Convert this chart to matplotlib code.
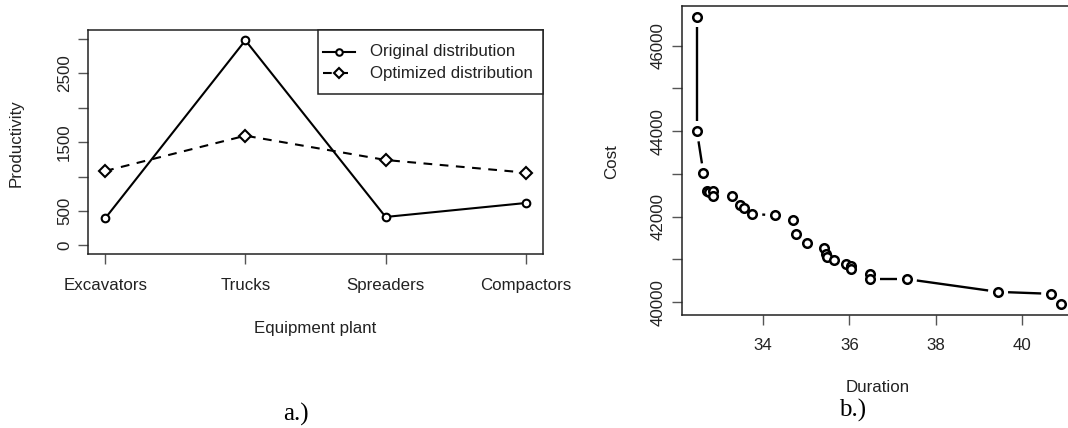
import matplotlib
matplotlib.use("Agg")
import matplotlib.pyplot as plt
from matplotlib.patches import Rectangle
import numpy as np

# ---- data: panel a ----
equipment = ["Excavators", "Trucks", "Spreaders", "Compactors"]
original = [392, 2980, 413, 616]
optimized = [1081, 1594, 1241, 1057]
prod_ticks = [0, 500, 1000, 1500, 2000, 2500, 3000]
prod_labels = ["0", "500", "", "1500", "", "2500", ""]
legend_labels = ["Original distribution", "Optimized distribution"]

# ---- data: panel b ----
duration = [32.47, 32.47, 32.62, 32.70, 32.75, 32.85, 32.85, 33.27, 33.46, 33.56,
            33.75, 34.28, 34.69, 34.77, 35.02, 35.40, 35.46, 35.48, 35.65, 35.92,
            36.03, 36.03, 36.47, 36.47, 37.33, 39.44, 40.67, 40.90]
cost = [46656, 43991, 43014, 42608, 42585, 42593, 42475, 42484, 42265, 42210,
        42062, 42030, 41929, 41601, 41374, 41273, 41116, 41055, 40975, 40898,
        40835, 40773, 40656, 40539, 40539, 40241, 40195, 39968]
dur_ticks = [34, 36, 38, 40]
cost_ticks = [40000, 41000, 42000, 43000, 44000, 45000, 46000]
cost_labels = ["40000", "", "42000", "", "44000", "", "46000"]

W, H = 1068, 428
fig = plt.figure(figsize=(W / 100, H / 100), dpi=100)
plt.rcParams['font.family'] = ['Liberation Sans', 'DejaVu Sans']
TXT = "#222222"
FS = 12.2

def fpos(x0, y0, x1, y1):
    return [x0 / W, 1 - y1 / H, (x1 - x0) / W, (y1 - y0) / H]

def style_axes(ax, xpad, ypad):
    for s in ax.spines.values():
        s.set_linewidth(1.1)
        s.set_color("#222222")
    ax.tick_params(axis="both", direction="out", length=7.2, width=1.0,
                   color="#555555", labelsize=FS, labelcolor=TXT)
    ax.tick_params(axis="x", pad=xpad)
    ax.tick_params(axis="y", pad=ypad)
    for lab in ax.get_yticklabels():
        lab.set_rotation(90)
        lab.set_va("center")
        lab.set_ha("right")

# ---------------- panel a ----------------
AX1 = (88.3, 30, 542.7, 253.5)
ax1 = fig.add_axes(fpos(*AX1))
xpos = np.arange(1, len(equipment) + 1)
orig_style = dict(color="black", lw=1.5, marker="o", ms=5.5, mfc="white",
                  mec="black", mew=1.5)
opt_style = dict(color="black", lw=1.5, dashes=[4.2, 3.6], marker="D", ms=6,
                 mfc="white", mec="black", mew=1.5)
ax1.plot(xpos, original, **orig_style)
ax1.plot(xpos, optimized, **opt_style)
ax1.set_xlim(0.88, 4.12)
ax1.set_ylim(-118, 3130)
ax1.set_xticks(xpos)
ax1.set_xticklabels(equipment)
ax1.set_yticks(prod_ticks)
ax1.set_yticklabels(prod_labels)
style_axes(ax1, xpad=10.5, ypad=4.5)

# legend drawn like R's legend(): box in the top-right corner
def ax1_frac(px, py):
    return ((px - AX1[0]) / (AX1[2] - AX1[0]), (AX1[3] - py) / (AX1[3] - AX1[1]))

bx0, by0 = ax1_frac(318.2, 93.7)
bx1, by1 = ax1_frac(542.7, 30)
ax1.add_patch(Rectangle((bx0, by0), bx1 - bx0, by1 - by0, transform=ax1.transAxes,
                        facecolor="white", edgecolor="#222222", lw=1.1,
                        zorder=5, clip_on=False))
for row_y, lab, st in [(51.7, legend_labels[0], orig_style),
                       (73.3, legend_labels[1], opt_style)]:
    hx0, hy = ax1_frac(323, row_y)
    hx1, _ = ax1_frac(354.6, row_y)
    hm, _ = ax1_frac(339, row_y)
    s = dict(st)
    s.pop("marker"); s.pop("ms"); s.pop("mfc"); s.pop("mec"); s.pop("mew")
    ax1.plot([hx0, hx1], [hy, hy], transform=ax1.transAxes, clip_on=False,
             zorder=6, **s)
    ax1.plot([hm], [hy], transform=ax1.transAxes, clip_on=False, zorder=7,
             ls="none", marker=st["marker"], ms=st["ms"] * 0.85, mfc="white",
             mec="black", mew=1.5)
    tx, _ = ax1_frac(369.6, row_y)
    ax1.text(tx, hy, lab, transform=ax1.transAxes, ha="left", va="center",
             fontsize=FS, color=TXT, zorder=7)

fig.text(16 / W, 1 - 143 / H, "Productivity", rotation=90, ha="center",
         va="center", fontsize=FS, color=TXT)
fig.text(315.5 / W, 1 - 328 / H, "Equipment plant", ha="center", va="center",
         fontsize=FS, color=TXT)
fig.text(296 / W, 1 - 414 / H, "a.)", ha="center", va="center", fontsize=18,
         family="Liberation Serif", color="black")

# ---------------- panel b ----------------
ax2 = fig.add_axes(fpos(682.3, 6, 1075.8, 315))
ax2.set_xlim(32.13, 41.24)
ax2.set_ylim(39700, 46924)
ax2.scatter(duration, cost, s=38, facecolors="white", edgecolors="black",
            linewidths=1.8, zorder=3)

# type="b": segments between consecutive points, leaving a gap around each point
fig.canvas.draw()
gap = 10.0
pts = ax2.transData.transform(np.column_stack([duration, cost]))
dpts = np.column_stack([duration, cost])
for i in range(len(dpts) - 1):
    p, q = pts[i], pts[i + 1]
    L = np.hypot(*(q - p))
    if L > 2 * gap:
        f0, f1 = gap / L, 1 - gap / L
        a = dpts[i] + f0 * (dpts[i + 1] - dpts[i])
        b = dpts[i] + f1 * (dpts[i + 1] - dpts[i])
        ax2.plot([a[0], b[0]], [a[1], b[1]], color="black", lw=1.7,
                 solid_capstyle="butt", zorder=2)

ax2.set_xticks(dur_ticks)
ax2.set_xticklabels([str(v) for v in dur_ticks])
ax2.set_yticks(cost_ticks)
ax2.set_yticklabels(cost_labels)
style_axes(ax2, xpad=9.5, ypad=5.0)

fig.text(611.7 / W, 1 - 161.7 / H, "Cost", rotation=90, ha="center",
         va="center", fontsize=FS, color=TXT)
fig.text(878 / W, 1 - 388 / H, "Duration", ha="center", va="center",
         fontsize=FS, color=TXT)
fig.text(853 / W, 1 - 410 / H, "b.)", ha="center", va="center", fontsize=18,
         family="Liberation Serif", color="black")

fig.savefig("out.png", dpi=100)
